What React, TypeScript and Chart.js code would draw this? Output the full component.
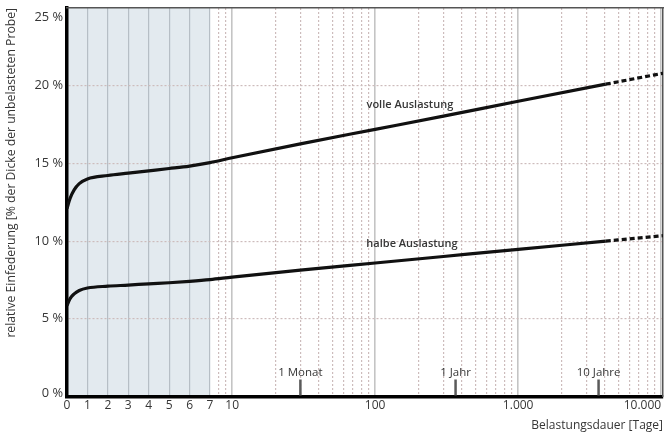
import React, { useEffect, useRef } from 'react';
import { Chart, LinearScale, registerables } from 'chart.js';

// ---------------- data ----------------
const volleDays = [0, 0.15, 0.35, 0.6, 1, 2, 3, 4, 5, 6, 7, 10, 30, 100, 300, 1000, 4100, 10300];
const volleValues = [12.1, 12.75, 13.3, 13.7, 14.0, 14.22, 14.37, 14.52, 14.67, 14.83, 15.05, 15.36, 16.26, 17.19, 18.04, 19.0, 20.1, 20.8];
const halbeDays = [0, 0.15, 0.35, 0.6, 1, 2, 3, 4, 5, 6, 7, 10, 30, 100, 300, 1000, 4100, 10300];
const halbeValues = [5.85, 6.3, 6.6, 6.82, 6.98, 7.1, 7.17, 7.25, 7.32, 7.41, 7.52, 7.68, 8.13, 8.59, 9.01, 9.47, 10.0, 10.35];
const PROJECTION_START = 4100; // beyond this day the curves are dashed (extrapolated)

const seriesNames = ['volle Auslastung', 'halbe Auslastung'];
const seriesLabelDays = [175, 181];
const seriesLabelValues = [18.76, 9.81];

const xTickDays = [0, 1, 2, 3, 4, 5, 6, 7, 8, 9, 10, 20, 30, 40, 50, 60, 70, 80, 90, 100, 200, 300, 400, 500, 600, 700, 800, 900, 1000, 2000, 3000, 4000, 5000, 6000, 7000, 8000, 9000, 10000];
const xLabelDays = [0, 1, 2, 3, 4, 5, 6, 7, 10, 100, 1000, 10000];
const xLabelTexts = ['0', '1', '2', '3', '4', '5', '6', '7', '10', '100', '1.000', '10.000'];
const xDecadeDays = [10, 100, 1000, 10000];
const yTickValues = [0, 5, 10, 15, 20, 25];

const markerDays = [30, 365, 3650];
const markerTexts = ['1 Monat', '1 Jahr', '10 Jahre'];

const X_MIN = 0;
const X_MAX = 10300;
const Y_MIN = 0;
const Y_MAX = 25;
const SHADE_FROM = 0;
const SHADE_TO = 7;

// ------------- hybrid (linear 0..7, then log) scale -------------
const LINEAR_END = 7;
const UNITS_PER_DECADE = 7;
const toAxis = (d: number) =>
  d <= LINEAR_END ? d : LINEAR_END + Math.log10(d / LINEAR_END) * UNITS_PER_DECADE;
const fromAxis = (u: number) =>
  u <= LINEAR_END ? u : LINEAR_END * Math.pow(10, (u - LINEAR_END) / UNITS_PER_DECADE);

class HybridScale extends LinearScale {
  static id = 'hybrid';
  static defaults = {};
  determineDataLimits() {
    const o: any = this.options;
    this.min = toAxis(o.min ?? X_MIN);
    this.max = toAxis(o.max ?? X_MAX);
  }
  buildTicks() {
    // leading placeholder tick keeps the "0" label centred while 'inner' alignment
    // right-aligns the last label
    return [{ value: X_MIN }, ...xTickDays.map((v) => ({ value: v }))];
  }
  getPixelForValue(value: number) {
    return super.getPixelForValue(toAxis(value));
  }
  getValueForPixel(pixel: number) {
    return fromAxis(super.getValueForPixel(pixel));
  }
}

Chart.register(...registerables, HybridScale);

const FONT = "'Open Sans', 'DejaVu Sans', sans-serif";
const TEXT = '#363636';

const decorPlugin = {
  id: 'decor',
  beforeDraw(chart: any) {
    const { ctx, chartArea, scales } = chart;
    const x0 = scales.x.getPixelForValue(SHADE_FROM);
    const x1 = scales.x.getPixelForValue(SHADE_TO);
    ctx.save();
    ctx.fillStyle = '#e3eaef';
    ctx.fillRect(x0, chartArea.top, x1 - x0, chartArea.bottom - chartArea.top);
    ctx.restore();
  },
  afterDatasetsDraw(chart: any) {
    const { ctx, chartArea, scales } = chart;
    ctx.save();
    ctx.fillStyle = TEXT;
    ctx.textAlign = 'center';
    ctx.textBaseline = 'middle';
    ctx.font = `11.5px ${FONT}`;
    markerDays.forEach((d, i) => {
      const px = scales.x.getPixelForValue(d);
      ctx.strokeStyle = '#5a5a5a';
      ctx.lineWidth = 2.5;
      ctx.beginPath();
      ctx.moveTo(px, chartArea.bottom - 17);
      ctx.lineTo(px, chartArea.bottom - 1);
      ctx.stroke();
      ctx.fillText(markerTexts[i], px, chartArea.bottom - 24);
    });
    ctx.font = `600 11px ${FONT}`;
    seriesNames.forEach((name, i) => {
      const px = scales.x.getPixelForValue(seriesLabelDays[i]);
      const py = scales.y.getPixelForValue(seriesLabelValues[i]);
      ctx.fillText(name, px, py);
    });
    ctx.restore();
  },
};

const isDecade = (v: number) => xDecadeDays.includes(v);
const isShadeLine = (v: number) => v > SHADE_FROM && v <= SHADE_TO;

export default function App() {
  const ref = useRef<HTMLCanvasElement | null>(null);

  useEffect(() => {
    document.body.style.margin = '0';
    if (!ref.current) return;
    const seg = {
      borderDash: (c: any) => (c.p0.parsed.x >= PROJECTION_START ? [5, 3] : undefined),
    };
    const chart = new Chart(ref.current, {
      type: 'line',
      data: {
        datasets: [
          {
            label: seriesNames[0],
            data: volleDays.map((d, i) => ({ x: d, y: volleValues[i] })),
            borderColor: '#111',
            borderWidth: 3.2,
            pointRadius: 0,
            cubicInterpolationMode: 'monotone',
            borderCapStyle: 'butt',
            fill: false,
            segment: seg,
          },
          {
            label: seriesNames[1],
            data: halbeDays.map((d, i) => ({ x: d, y: halbeValues[i] })),
            borderColor: '#111',
            borderWidth: 3.2,
            pointRadius: 0,
            cubicInterpolationMode: 'monotone',
            borderCapStyle: 'butt',
            fill: false,
            segment: seg,
          },
        ],
      },
      options: {
        animation: false,
        responsive: true,
        maintainAspectRatio: false,
        layout: { padding: { top: 8, right: 2, left: 0, bottom: 0 } },
        plugins: { legend: { display: false }, tooltip: { enabled: false } },
        scales: {
          x: {
            type: 'hybrid' as any,
            position: 'bottom',
            min: X_MIN,
            max: X_MAX,
            afterFit: (s: any) => {
              s.height = 37.5;
              s.paddingLeft = 0;
              s.paddingRight = 0;
            },
            grid: {
              drawTicks: false,
              color: (c: any) => {
                const v = c.tick?.value;
                if (v === undefined || v <= 0) return 'rgba(0,0,0,0)';
                if (isShadeLine(v)) return '#b6bec5';
                if (isDecade(v)) return '#c4c4c4';
                return '#cdbcbc';
              },
              lineWidth: (c: any) => {
                const v = c.tick?.value;
                if (v !== undefined && isDecade(v)) return 1.6;
                return 1.2;
              },
            },
            border: {
              display: true,
              color: '#000',
              width: 3.5,
              dash: (c: any) => {
                const v = c.tick?.value;
                if (v === undefined || isShadeLine(v) || isDecade(v)) return [];
                return [2, 2];
              },
            },
            ticks: {
              autoSkip: false,
              maxRotation: 0,
              minRotation: 0,
              align: 'inner',
              padding: 2,
              color: TEXT,
              font: { family: FONT, size: 12 },
              callback: (v: any, i: number) => {
                if (i === 0) return '';
                const k = xLabelDays.indexOf(Number(v));
                return k >= 0 ? xLabelTexts[k] : '';
              },
            },
            title: {
              display: true,
              text: 'Belastungsdauer [Tage]',
              align: 'end',
              color: TEXT,
              font: { family: FONT, size: 12 },
              padding: { top: 0, bottom: 1 },
            },
          },
          y: {
            type: 'linear',
            position: 'left',
            min: Y_MIN,
            max: Y_MAX,
            afterBuildTicks: (s: any) => {
              s.ticks = yTickValues.map((v) => ({ value: v }));
            },
            afterFit: (s: any) => {
              s.width = 67;
              s.paddingTop = 0;
              s.paddingBottom = 0;
            },
            grid: {
              drawTicks: false,
              color: (c: any) => {
                const v = c.tick?.value;
                return v !== undefined && v > Y_MIN && v < Y_MAX ? '#cdbcbc' : 'rgba(0,0,0,0)';
              },
              lineWidth: 1.2,
            },
            border: {
              display: true,
              color: '#000',
              width: 3.5,
              dash: (c: any) => (c.tick ? [2, 2] : []),
            },
            ticks: {
              padding: 4,
              color: TEXT,
              font: (c: any) => {
                const v = c.tick?.value;
                let lh = 1.2;
                if (v === Y_MAX) lh = 1.45;
                if (v === Y_MIN) lh = 0.56;
                return { family: FONT, size: 12.8, lineHeight: lh };
              },
              callback: (v: any) => {
                const t = `${v} %`;
                if (Number(v) === Y_MAX) return ['', t];
                if (Number(v) === Y_MIN) return [t, ''];
                return t;
              },
            },
            title: {
              display: true,
              text: 'relative Einfederung [% der Dicke der unbelasteten Probe]',
              align: 'end',
              color: TEXT,
              font: { family: FONT, size: 12.2 },
              padding: { top: 4, bottom: 0 },
            },
          },
          x2: {
            type: 'linear',
            position: 'top',
            display: true,
            grid: { display: false, drawTicks: false },
            ticks: { display: false },
            border: { display: true, color: '#555', width: 1.5 },
          },
          y2: {
            type: 'linear',
            position: 'right',
            display: true,
            grid: { display: false, drawTicks: false },
            ticks: { display: false },
            border: { display: true, color: '#555', width: 1.5 },
          },
        },
      } as any,
      plugins: [decorPlugin],
    });
    return () => chart.destroy();
  }, []);

  return (
    <div style={{ width: 665, height: 434, position: 'relative' }}>
      <canvas ref={ref} />
    </div>
  );
}
